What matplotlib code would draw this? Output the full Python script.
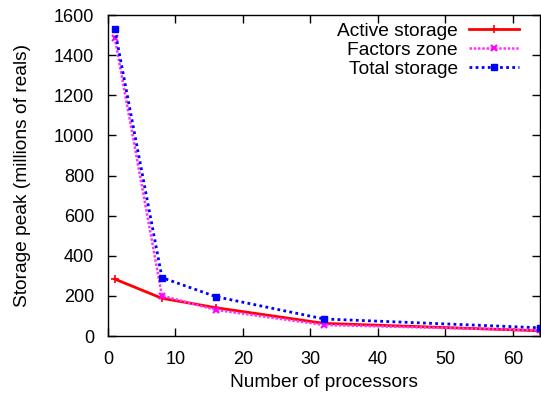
import matplotlib
matplotlib.use("Agg")
import matplotlib.pyplot as plt

# ── Data ───────────────────────────────────────────────────
processors     = [1, 8, 16, 32, 64]
active_storage = [284, 188, 141, 63, 26]
factors_zone   = [1487, 201, 130, 55, 28]
total_storage  = [1529, 291, 196, 85, 41]

x_ticks = [0, 10, 20, 30, 40, 50, 60]
y_ticks = [0, 200, 400, 600, 800, 1000, 1200, 1400, 1600]

plt.rcParams["font.family"] = ["Liberation Sans", "DejaVu Sans"]
FS = 13.8      # labels and legend
TICK_FS = 13

fig = plt.figure(figsize=(5.41, 3.96), dpi=100)
ax = fig.add_axes([0.1996, 0.1515, 0.7985, 0.8105])

ax.plot(processors, active_storage, color="#ff0000", linewidth=2,
        marker="+", markersize=6, markeredgewidth=1.2,
        label="Active storage")
ax.plot(processors, factors_zone, color="#ff33ff", linewidth=1.8,
        linestyle=(0, (1, 0.7)), marker="x", markersize=5, markeredgewidth=1.5,
        markeredgecolor="#ff00ff", label="Factors zone")
ax.plot(processors, total_storage, color="#0000ff", linewidth=2,
        linestyle=(0, (1, 1.2)), marker="s", markersize=5,
        label="Total storage")

ax.set_xlim(0, 64)
ax.set_ylim(0, 1600)
ax.set_xticks(x_ticks)
ax.set_yticks(y_ticks)
ax.tick_params(direction="in", top=True, right=True, labelsize=TICK_FS,
               length=6, width=1)
ax.tick_params(axis="x", pad=11)
ax.tick_params(axis="y", pad=10)
for s in ax.spines.values():
    s.set_linewidth(1)

ax.set_xlabel("Number of processors", fontsize=FS, labelpad=4)
ax.set_ylabel("Storage peak (millions of reals)", fontsize=FS, labelpad=16)

ax.legend(loc="upper right", bbox_to_anchor=(0.978, 1.012), frameon=False,
          markerfirst=False, fontsize=FS, handlelength=2.6, labelspacing=0.08,
          borderaxespad=0.2, handletextpad=0.6)

plt.savefig("out.png", dpi=100)
plt.close()
